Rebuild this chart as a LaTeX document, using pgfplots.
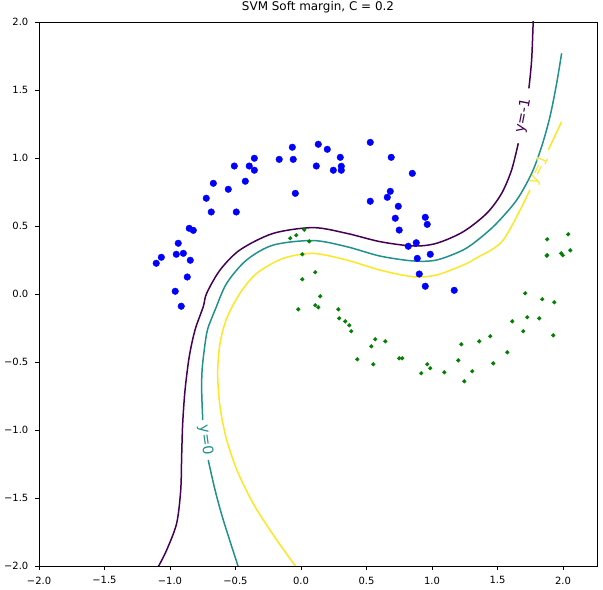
\documentclass[border=0pt]{standalone}
\usepackage{fontspec}
\setmainfont{DejaVu Sans}
\usepackage{pgfplots}
\pgfplotsset{compat=1.18}
\definecolor{vpurple}{HTML}{440154}
\definecolor{vteal}{HTML}{21918C}
\definecolor{vyellow}{HTML}{FDE725}
\definecolor{mblue}{HTML}{0000FF}
\definecolor{mgreen}{HTML}{008000}
\begin{document}
\begin{tikzpicture}
\path[use as bounding box] (-39bp,-24bp) rectangle (564bp,566bp);
\begin{axis}[
  scale only axis, width=558bp, height=544bp,
  xmin=-2, xmax=2.26, ymin=-2, ymax=2,
  xtick={-2,-1.5,-1,-0.5,0,0.5,1,1.5,2},
  xticklabels={−2.0,−1.5,−1.0,−0.5,0.0,0.5,1.0,1.5,2.0},
  ytick={-2,-1.5,-1,-0.5,0,0.5,1,1.5,2},
  yticklabels={−2.0,−1.5,−1.0,−0.5,0.0,0.5,1.0,1.5,2.0},
  tick align=outside, xtick pos=bottom, ytick pos=left,
  major tick length=3.5bp,
  every tick/.style={black, line width=0.8bp},
  axis line style={line width=0.8bp},
  tick label style={font=\fontsize{10}{12}\selectfont},
  xticklabel style={inner sep=0pt, yshift=-7bp},
  yticklabel style={inner sep=0pt, xshift=-7bp},
  title={SVM Soft margin, C = 0.2},
  title style={font=\fontsize{12}{14}\selectfont, anchor=base, inner sep=0pt, yshift=6bp},
  clip=true,
]
% class 0 (blue)
\addplot[only marks, mark=*, mark size=3.3bp, mblue, mark options={draw=mblue, fill=mblue}] table {
x y
-0.066 1.079
0.132 1.101
0.201 1.064
-0.356 0.998
-0.166 0.990
-0.059 0.990
-0.509 0.941
-0.395 0.941
-0.356 0.910
0.117 0.941
0.247 0.910
-0.669 0.814
-0.425 0.829
-0.555 0.770
-0.723 0.704
-0.043 0.740
-0.685 0.603
-0.494 0.603
-0.853 0.483
-0.822 0.468
-0.937 0.373
-1.066 0.270
-1.105 0.226
-0.952 0.292
-0.898 0.299
-0.845 0.248
-0.868 0.125
-0.960 0.020
-0.914 -0.090
0.300 1.005
0.308 0.939
0.308 0.910
0.529 1.115
0.689 1.005
0.850 0.887
0.682 0.755
0.659 0.711
0.529 0.682
0.743 0.645
0.720 0.557
0.949 0.564
0.964 0.512
0.750 0.470
0.880 0.377
0.819 0.351
0.888 0.262
0.987 0.292
0.903 0.147
0.949 0.057
1.170 0.027
};
% class 1 (green)
\addplot[only marks, mark=*, mark size=1.9bp, mgreen, mark options={draw=mgreen, fill=mgreen}] table {
x y
0.025 0.473
-0.082 0.410
-0.036 0.432
0.063 0.387
0.010 0.292
0.109 0.160
0.010 0.108
0.147 -0.017
0.109 -0.083
0.132 -0.098
-0.021 -0.113
0.285 -0.113
0.292 -0.179
0.338 -0.201
0.369 -0.230
0.384 -0.274
0.567 -0.333
0.644 -0.348
0.537 -0.385
0.430 -0.480
0.552 -0.517
0.750 -0.473
0.773 -0.473
0.964 -0.517
0.987 -0.546
0.918 -0.583
1.094 -0.576
1.224 -0.370
1.361 -0.348
1.201 -0.488
1.308 -0.568
1.247 -0.642
1.880 0.402
2.040 0.439
1.876 0.282
1.880 0.285
1.987 0.299
1.998 0.285
2.056 0.321
1.712 0.005
1.842 -0.039
1.934 -0.061
1.613 -0.201
1.727 -0.171
1.819 -0.179
1.697 -0.274
1.926 -0.304
1.445 -0.311
1.575 -0.429
1.468 -0.510
};
% contour y=-1
\addplot[vpurple, line width=1.5bp, smooth, tension=0.5] coordinates {
(-1.089,-2.005) (-1.025,-1.882) (-0.949,-1.686) (-0.918,-1.441) (-0.911,-1.196)
(-0.903,-0.951) (-0.885,-0.706) (-0.853,-0.461) (-0.809,-0.265) (-0.746,-0.093)
(-0.720,0.005) (-0.618,0.176) (-0.466,0.324) (-0.211,0.446) (0.094,0.488)
(0.349,0.446) (0.603,0.385) (0.857,0.353) (1.036,0.373) (1.239,0.458)
(1.418,0.593) (1.532,0.740) (1.608,0.912) (1.659,1.108)
};
\addplot[vpurple, line width=1.5bp, smooth, tension=0.5] coordinates {
(1.740,1.512) (1.761,1.721) (1.773,2.01)
};
% contour y=0
\addplot[vteal, line width=1.5bp, smooth, tension=0.5] coordinates {
(-0.479,-2.005) (-0.593,-1.662) (-0.656,-1.441) (-0.708,-1.221)
};
\addplot[vteal, line width=1.5bp, smooth, tension=0.5] coordinates {
(-0.750,-0.926) (-0.758,-0.706) (-0.753,-0.535) (-0.720,-0.289) (-0.682,-0.179)
(-0.656,-0.118) (-0.567,0.079) (-0.415,0.250) (-0.211,0.360) (0.094,0.393)
(0.349,0.348) (0.603,0.279) (0.857,0.243) (1.036,0.250) (1.239,0.324)
(1.366,0.410) (1.494,0.520) (1.647,0.691) (1.761,0.887) (1.837,1.083)
(1.901,1.304) (1.952,1.549) (1.990,1.770)
};
% contour y=1
\addplot[vyellow, line width=1.5bp, smooth, tension=0.5] coordinates {
(-0.038,-2.005) (-0.185,-1.809) (-0.351,-1.564) (-0.479,-1.318) (-0.567,-1.074)
(-0.618,-0.829) (-0.636,-0.583) (-0.618,-0.363) (-0.567,-0.179) (-0.466,0.005)
(-0.338,0.152) (-0.135,0.262) (0.094,0.298) (0.349,0.250) (0.603,0.176)
(0.857,0.127) (1.036,0.140) (1.239,0.213) (1.340,0.265) (1.544,0.397) (1.748,0.765)
};
\addplot[vyellow, line width=1.5bp, smooth, tension=0.5] coordinates {
(1.888,1.059) (1.990,1.267)
};
\node[vpurple, rotate=79, inner sep=0pt, font=\fontsize{14.5}{16}\selectfont] at (axis cs:1.698,1.31) {y=-1};
\node[vyellow, rotate=65, inner sep=0pt, font=\fontsize{14.5}{16}\selectfont] at (axis cs:1.817,0.912) {y=1};
\node[vteal, rotate=-82, inner sep=0pt, font=\fontsize{14.5}{16}\selectfont] at (axis cs:-0.729,-1.074) {y=0};
\end{axis}
\end{tikzpicture}
\end{document}
